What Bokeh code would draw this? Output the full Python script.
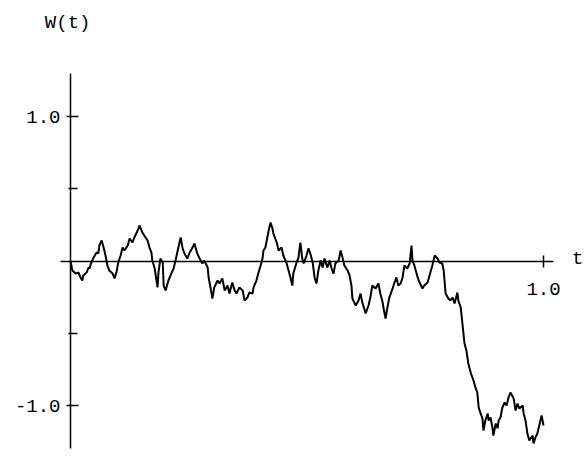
from bokeh.plotting import figure
from bokeh.models import FixedTicker, Label, Range1d, LinearAxis, PrintfTickFormatter
from bokeh.embed import file_html
from bokeh.resources import INLINE

t = [0.000, 0.004, 0.011, 0.017, 0.021, 0.025, 0.027, 0.034, 0.038, 0.040,
     0.044, 0.049, 0.055, 0.059, 0.061, 0.066, 0.070, 0.074, 0.078, 0.082,
     0.089, 0.093, 0.097, 0.101, 0.106, 0.110, 0.114, 0.121, 0.125, 0.131,
     0.135, 0.142, 0.146, 0.152, 0.156, 0.163, 0.167, 0.171, 0.173, 0.178,
     0.184, 0.186, 0.190, 0.195, 0.197, 0.201, 0.207, 0.214, 0.218, 0.222,
     0.228, 0.233, 0.237, 0.241, 0.247, 0.252, 0.258, 0.262, 0.268, 0.273,
     0.279, 0.283, 0.290, 0.292, 0.296, 0.300, 0.304, 0.311, 0.315, 0.321,
     0.326, 0.332, 0.336, 0.342, 0.347, 0.351, 0.357, 0.364, 0.368, 0.374,
     0.378, 0.385, 0.387, 0.393, 0.397, 0.402, 0.406, 0.408, 0.412, 0.419,
     0.423, 0.427, 0.429, 0.436, 0.440, 0.446, 0.450, 0.457, 0.461, 0.465,
     0.469, 0.471, 0.478, 0.482, 0.486, 0.490, 0.493, 0.499, 0.503, 0.507,
     0.512, 0.516, 0.520, 0.524, 0.529, 0.533, 0.537, 0.543, 0.548, 0.552,
     0.556, 0.560, 0.567, 0.571, 0.575, 0.579, 0.586, 0.590, 0.594, 0.596,
     0.603, 0.609, 0.613, 0.617, 0.624, 0.630, 0.634, 0.638, 0.645, 0.651,
     0.655, 0.660, 0.662, 0.666, 0.670, 0.674, 0.681, 0.685, 0.689, 0.693,
     0.698, 0.702, 0.706, 0.712, 0.717, 0.721, 0.723, 0.727, 0.734, 0.738,
     0.744, 0.748, 0.755, 0.759, 0.765, 0.770, 0.776, 0.780, 0.786, 0.789,
     0.793, 0.799, 0.803, 0.808, 0.812, 0.818, 0.820, 0.825, 0.829, 0.833,
     0.837, 0.841, 0.846, 0.852, 0.856, 0.860, 0.863, 0.867, 0.871, 0.873,
     0.877, 0.882, 0.884, 0.888, 0.892, 0.894, 0.899, 0.903, 0.905, 0.909,
     0.913, 0.918, 0.922, 0.926, 0.930, 0.937, 0.941, 0.945, 0.949, 0.956,
     0.958, 0.962, 0.966, 0.970, 0.977, 0.979, 0.983, 0.987, 0.992, 0.996,
     1.000]

w = [0.000, -0.066, -0.087, -0.080, -0.114, -0.135, -0.100, -0.080, -0.045, -0.052,
     -0.010, 0.024, 0.059, 0.052, 0.107, 0.142, 0.093, 0.038, -0.031, -0.066,
     -0.087, -0.121, -0.080, -0.010, 0.038, 0.093, 0.073, 0.107, 0.156, 0.128,
     0.163, 0.211, 0.246, 0.197, 0.176, 0.142, 0.093, 0.059, 0.003, -0.052,
     -0.183, -0.080, 0.017, -0.010, -0.170, -0.204, -0.135, -0.080, -0.052, 0.003,
     0.093, 0.163, 0.087, 0.052, 0.017, 0.059, 0.093, 0.121, 0.052, 0.017,
     -0.017, 0.003, -0.045, -0.114, -0.183, -0.260, -0.183, -0.135, -0.156, -0.121,
     -0.204, -0.170, -0.225, -0.149, -0.204, -0.225, -0.183, -0.204, -0.273, -0.253,
     -0.218, -0.225, -0.183, -0.135, -0.087, -0.031, 0.017, 0.073, 0.093, 0.211,
     0.266, 0.225, 0.190, 0.128, 0.073, 0.093, 0.038, -0.017, -0.066, -0.114,
     -0.170, -0.087, -0.010, 0.024, 0.128, 0.017, -0.017, 0.038, 0.087, 0.052,
     -0.010, -0.114, -0.156, -0.066, 0.003, -0.045, 0.017, -0.045, 0.003, -0.052,
     -0.087, -0.017, 0.003, 0.073, 0.024, -0.031, -0.066, -0.100, -0.170, -0.260,
     -0.308, -0.273, -0.225, -0.287, -0.363, -0.308, -0.253, -0.170, -0.190, -0.156,
     -0.225, -0.287, -0.329, -0.398, -0.322, -0.253, -0.190, -0.149, -0.114, -0.170,
     -0.156, -0.114, -0.031, -0.052, -0.017, 0.107, 0.003, -0.031, -0.114, -0.149,
     -0.190, -0.170, -0.149, -0.100, -0.031, 0.038, 0.017, -0.010, -0.017, -0.066,
     -0.225, -0.260, -0.273, -0.253, -0.294, -0.218, -0.273, -0.322, -0.446, -0.571,
     -0.619, -0.709, -0.772, -0.827, -0.875, -0.910, -1.014, -1.055, -1.090, -1.173,
     -1.104, -1.055, -1.104, -1.083, -1.152, -1.208, -1.125, -1.159, -1.104, -1.083,
     -1.014, -0.979, -1.000, -0.945, -0.910, -0.952, -1.035, -0.986, -1.021, -1.000,
     -1.055, -1.104, -1.194, -1.242, -1.208, -1.263, -1.221, -1.194, -1.125, -1.069,
     -1.138]

x_major_ticks = [1.0]
y_major_ticks = [-1.0, 1.0]
y_minor_ticks = [-0.5, 0.5]
x_label = "t"
y_label = "W(t)"

FONT = "Liberation Mono"
FSIZE = "19px"

p = figure(width=584, height=459, output_backend="svg", toolbar_location=None,
           x_range=Range1d(-0.14799, 1.08668), y_range=Range1d(-1.37370, 1.80277),
           x_axis_location=None, y_axis_location=None, min_border=0)
p.outline_line_color = None
p.xgrid.visible = False
p.ygrid.visible = False
p.background_fill_color = "white"
p.border_fill_color = "white"

xa = LinearAxis(fixed_location=0, bounds=(-0.021, 1.021),
                ticker=FixedTicker(ticks=x_major_ticks, minor_ticks=[]),
                formatter=PrintfTickFormatter(format="%.1f"))
xa.axis_line_width = 1.5
xa.axis_line_color = "black"
xa.major_tick_line_width = 1.5
xa.major_tick_in = 6
xa.major_tick_out = 6
xa.minor_tick_line_color = None
xa.major_label_standoff = 16
xa.major_label_text_font = FONT
xa.major_label_text_font_size = FSIZE
xa.major_label_text_color = "black"
p.add_layout(xa, "below")

ya = LinearAxis(fixed_location=0, bounds=(-1.30, 1.30),
                ticker=FixedTicker(ticks=y_major_ticks, minor_ticks=y_minor_ticks),
                formatter=PrintfTickFormatter(format="%.1f"))
ya.axis_line_width = 1.5
ya.axis_line_color = "black"
ya.major_tick_line_width = 1.5
ya.major_tick_in = 8
ya.major_tick_out = 4
ya.minor_tick_line_width = 1.5
ya.minor_tick_line_color = "black"
ya.minor_tick_in = 7
ya.minor_tick_out = 2
ya.major_label_standoff = 6
ya.major_label_text_font = FONT
ya.major_label_text_font_size = FSIZE
ya.major_label_text_color = "black"
ya.major_label_orientation = "horizontal"
p.add_layout(ya, "left")

p.line(t, w, line_width=2, line_color="black")

p.add_layout(Label(x=-0.006, y=1.650, text=y_label, text_font=FONT,
                   text_font_size=FSIZE, text_align="center",
                   text_baseline="middle", text_color="black"))
p.add_layout(Label(x=1.060, y=0.017, text=x_label, text_font=FONT,
                   text_font_size=FSIZE, text_align="left",
                   text_baseline="middle", text_color="black"))

open("out.html", "w").write(file_html(p, INLINE))
